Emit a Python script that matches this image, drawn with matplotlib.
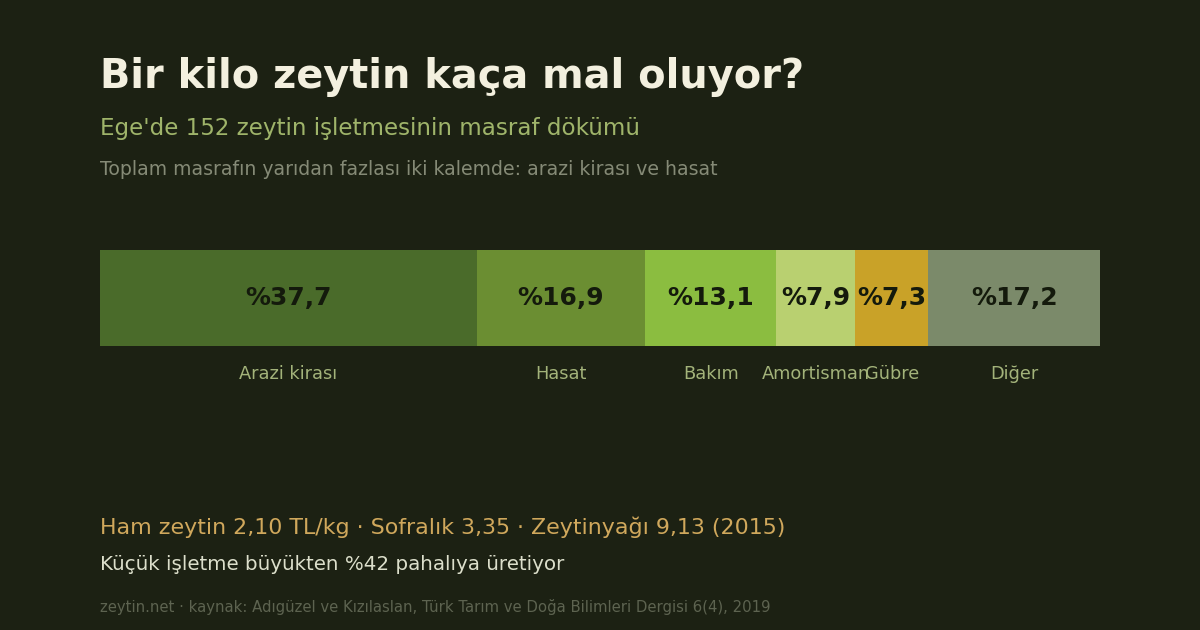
import matplotlib
matplotlib.use("Agg")
import matplotlib.pyplot as plt

plt.rcParams["font.family"] = ["DejaVu Sans"]

categories = ["Arazi kirası", "Hasat", "Bakım", "Amortisman", "Gübre", "Diğer"]
shares = [37.7, 16.9, 13.1, 7.9, 7.3, 17.2]
value_labels = ["%37,7", "%16,9", "%13,1", "%7,9", "%7,3", "%17,2"]
colors = ["#4a6b2a", "#6b8e32", "#8bbd40", "#b9d070", "#c9a228", "#7b8a6a"]

bg = "#1c2113"

fig = plt.figure(figsize=(12, 6.3), dpi=100)
fig.patch.set_facecolor(bg)

# bar axes placed in pixel terms
W, H = 1200, 630
ax = fig.add_axes([100 / W, (H - 346) / H, 1000 / W, 96 / H])
ax.set_facecolor(bg)

left = 0
for cat, val, lab, col in zip(categories, shares, value_labels, colors):
    ax.barh(0.5, val, left=left, height=1, color=col, linewidth=0)
    mid = left + val / 2
    ax.text(mid, 0.5, lab, ha="center", va="center", fontsize=18,
            fontweight="bold", color="#141a0c")
    ax.text(mid, -0.29, cat, ha="center", va="center", fontsize=12.8,
            color="#a3b37a")
    left += val

ax.set_xlim(0, sum(shares))
ax.set_ylim(0, 1)
ax.axis("off")

fig.text(100 / W, 1 - 77 / H, "Bir kilo zeytin kaça mal oluyor?", fontsize=28.7,
         fontweight="bold", color="#f3f0df", va="center")
fig.text(100 / W, 1 - 129 / H, "Ege'de 152 zeytin işletmesinin masraf dökümü",
         fontsize=16.6, color="#9fb46a", va="center")
fig.text(100 / W, 1 - 170 / H,
         "Toplam masrafın yarıdan fazlası iki kalemde: arazi kirası ve hasat",
         fontsize=13.6, color="#858a76", va="center")

fig.text(100 / W, 1 - 527 / H,
         "Ham zeytin 2,10 TL/kg · Sofralık 3,35 · Zeytinyağı 9,13 (2015)",
         fontsize=15.9, color="#d0a85c", va="center")
fig.text(100 / W, 1 - 564 / H, "Küçük işletme büyükten %42 pahalıya üretiyor",
         fontsize=14.3, color="#dcdfcb", va="center")
fig.text(100 / W, 1 - 607 / H,
         "zeytin.net · kaynak: Adıgüzel ve Kızılaslan, Türk Tarım ve Doğa Bilimleri Dergisi 6(4), 2019",
         fontsize=10.7, color="#5d6350", va="center")

fig.savefig("out.png", dpi=100, facecolor=bg)
